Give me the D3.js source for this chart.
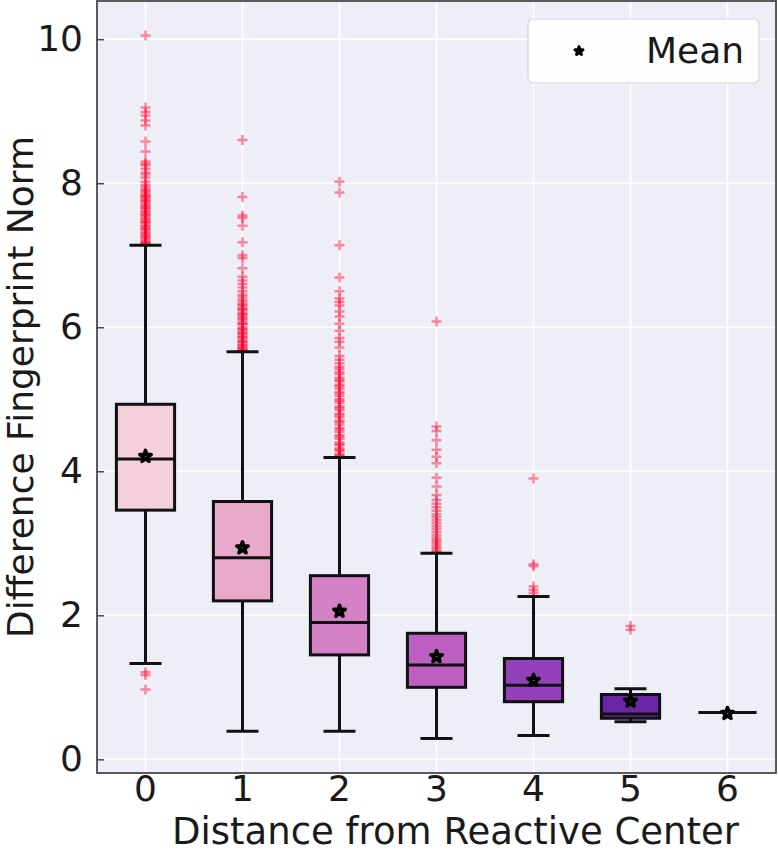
<!DOCTYPE html>
<html><head><meta charset="utf-8">
<script src="https://cdn.jsdelivr.net/npm/d3@7/dist/d3.min.js"></script>
<style>body{margin:0;background:#fff}svg{display:block}text{font-family:"DejaVu Sans",sans-serif;fill:#1a1a1a}</style>
</head><body><svg id="c" width="778" height="853"></svg>
<script>
const categories = ["0","1","2","3","4","5","6"];
const q1 =        [3.46, 2.20, 1.45, 1.00, 0.80, 0.57, 0.65];
const medians =   [4.17, 2.80, 1.90, 1.31, 1.03, 0.63, 0.65];
const q3 =        [4.93, 3.58, 2.55, 1.75, 1.40, 0.90, 0.65];
const means =     [4.22, 2.95, 2.07, 1.44, 1.11, 0.82, 0.65];
const whiskLow =  [1.33, 0.39, 0.39, 0.29, 0.33, 0.52, 0.65];
const whiskHigh = [7.14, 5.66, 4.19, 2.86, 2.26, 0.98, 0.65];
const boxColors = ["#f3d0dc","#e9a9cb","#d581c6","#bd5fc1","#9440bb","#6a27a8","#4a1890"];
const yTicks = [0, 2, 4, 6, 8, 10];
const outliers0 = [10.05, 9.05, 8.99, 8.94, 8.87, 8.8, 8.58, 8.44, 8.3, 8.27, 8.25, 8.2, 8.15, 8.12, 8.08, 8.02, 7.98, 7.95, 7.92, 7.9, 7.88, 7.85, 7.83, 7.82, 7.8, 7.78, 7.76, 7.75, 7.72, 7.7, 7.68, 7.66, 7.65, 7.62, 7.6, 7.58, 7.56, 7.55, 7.52, 7.5, 7.48, 7.46, 7.45, 7.42, 7.4, 7.38, 7.36, 7.35, 7.32, 7.3, 7.28, 7.26, 7.25, 7.22, 7.2, 7.18, 7.17, 7.16, 7.15, 1.21, 1.17, 0.97];
const outliers1 = [8.6, 7.81, 7.55, 7.52, 7.41, 7.18, 7.0, 6.96, 6.82, 6.7, 6.65, 6.6, 6.55, 6.5, 6.45, 6.42, 6.38, 6.35, 6.32, 6.3, 6.27, 6.25, 6.24, 6.2, 6.18, 6.17, 6.14, 6.12, 6.1, 6.07, 6.05, 6.04, 6.0, 5.98, 5.97, 5.94, 5.92, 5.91, 5.88, 5.86, 5.85, 5.82, 5.8, 5.79, 5.76, 5.75, 5.73, 5.71, 5.7, 5.68, 5.67];
const outliers2 = [8.02, 7.87, 7.14, 6.69, 6.5, 6.4, 6.35, 6.3, 6.22, 6.15, 6.05, 5.95, 5.85, 5.8, 5.72, 5.6, 5.55, 5.5, 5.45, 5.42, 5.38, 5.35, 5.3, 5.27, 5.25, 5.2, 5.18, 5.15, 5.1, 5.08, 5.05, 5.0, 4.98, 4.95, 4.9, 4.88, 4.85, 4.8, 4.78, 4.75, 4.7, 4.68, 4.65, 4.6, 4.58, 4.55, 4.5, 4.48, 4.45, 4.4, 4.38, 4.36, 4.32, 4.3, 4.28, 4.24, 4.22, 4.21];
const outliers3 = [6.08, 4.62, 4.56, 4.43, 4.3, 4.2, 4.11, 3.91, 3.79, 3.67, 3.6, 3.55, 3.5, 3.45, 3.4, 3.36, 3.32, 3.28, 3.24, 3.2, 3.16, 3.12, 3.08, 3.05, 3.02, 2.99, 2.96, 2.93, 2.9, 2.88];
const outliers4 = [3.9, 2.71, 2.68, 2.4, 2.35, 2.31];
const outliers5 = [1.85, 1.8];
const outliers6 = [];
const outliers = [outliers0, outliers1, outliers2, outliers3, outliers4, outliers5, outliers6];

const svg = d3.select("#c");
const L = 97, R = 776, T = 1, B = 773;
const x = d3.scaleBand().domain(categories).range([L, R]).paddingInner(0).paddingOuter(0);
const y = d3.scaleLinear().domain([-0.19, 10.53]).range([B, T]);
const step = x.bandwidth();
const cx = c => x(c) + step / 2;
const boxW = step * 0.6, capW = step * 0.33;

svg.append("rect").attr("x", L).attr("y", T).attr("width", R - L).attr("height", B - T).attr("fill", "#eeeef6");

// grid
svg.append("g").selectAll("line").data(yTicks).join("line")
  .attr("x1", L).attr("x2", R).attr("y1", d => y(d)).attr("y2", d => y(d))
  .attr("stroke", "#fff").attr("stroke-width", 1.6);
svg.append("g").selectAll("line").data(categories).join("line")
  .attr("x1", d => cx(d)).attr("x2", d => cx(d)).attr("y1", T).attr("y2", B)
  .attr("stroke", "#fff").attr("stroke-width", 1.6);

// axes
const yAxis = d3.axisLeft(y).tickValues(yTicks).tickSize(-7).tickPadding(14).tickFormat(d3.format("d"));
const gy = svg.append("g").attr("transform", `translate(${L},0)`).call(yAxis);
gy.select(".domain").remove();
gy.selectAll(".tick line").attr("stroke", "#4a4a4a").attr("stroke-width", 1.5);
gy.selectAll(".tick text").attr("font-size", 36).attr("fill", "#1a1a1a").attr("font-family", "DejaVu Sans");

const xAxis = d3.axisBottom(x).tickSize(0).tickPadding(2);
const gx = svg.append("g").attr("transform", `translate(0,${B})`).call(xAxis);
gx.select(".domain").remove();
gx.selectAll(".tick text").attr("font-size", 36).attr("fill", "#1a1a1a").attr("font-family", "DejaVu Sans");

// outliers
const plusPath = "M-5,0H5M0,-5V5";
const og = svg.append("g");
outliers.forEach((arr, i) => {
  og.selectAll(null).data(arr).join("path")
    .attr("d", plusPath)
    .attr("transform", d => `translate(${cx(categories[i])},${y(d)})`)
    .attr("stroke", "rgb(255,0,45)").attr("stroke-opacity", 0.45).attr("stroke-width", 2.5).attr("fill", "none");
});

// boxes
const bg = svg.append("g");
categories.forEach((c, i) => {
  const xc = cx(c);
  const g = bg.append("g");
  g.append("line").attr("x1", xc).attr("x2", xc).attr("y1", y(q3[i])).attr("y2", y(whiskHigh[i])).attr("stroke", "#111").attr("stroke-width", 3);
  g.append("line").attr("x1", xc).attr("x2", xc).attr("y1", y(q1[i])).attr("y2", y(whiskLow[i])).attr("stroke", "#111").attr("stroke-width", 3);
  g.append("line").attr("x1", xc - capW / 2).attr("x2", xc + capW / 2).attr("y1", y(whiskHigh[i])).attr("y2", y(whiskHigh[i])).attr("stroke", "#111").attr("stroke-width", 3);
  g.append("line").attr("x1", xc - capW / 2).attr("x2", xc + capW / 2).attr("y1", y(whiskLow[i])).attr("y2", y(whiskLow[i])).attr("stroke", "#111").attr("stroke-width", 3);
  g.append("rect").attr("x", xc - boxW / 2).attr("width", boxW)
    .attr("y", y(q3[i])).attr("height", Math.max(0, y(q1[i]) - y(q3[i])))
    .attr("fill", boxColors[i]).attr("stroke", "#111").attr("stroke-width", 3);
  g.append("line").attr("x1", xc - boxW / 2).attr("x2", xc + boxW / 2).attr("y1", y(medians[i])).attr("y2", y(medians[i])).attr("stroke", "#111").attr("stroke-width", 3);
});

// means
const star = d3.symbol().type(d3.symbolStar).size(40);
svg.append("g").selectAll("path").data(means).join("path")
  .attr("d", star)
  .attr("transform", (d, i) => `translate(${cx(categories[i])},${y(d) + 1})`)
  .attr("fill", "#22ee22").attr("stroke", "#000").attr("stroke-width", 3.6).attr("stroke-linejoin", "round");

// frame
svg.append("rect").attr("x", L).attr("y", T).attr("width", R - L).attr("height", B - T)
  .attr("fill", "none").attr("stroke", "#4a4a4a").attr("stroke-width", 1.8);

// legend
const lg = svg.append("g");
lg.append("rect").attr("x", 528).attr("y", 19).attr("width", 231).attr("height", 64).attr("rx", 5)
  .attr("fill", "#fff").attr("fill-opacity", 0.85).attr("stroke", "#d3dadd").attr("stroke-width", 1.2);
lg.append("path").attr("d", d3.symbol().type(d3.symbolStar).size(20)).attr("transform", "translate(579,51)")
  .attr("fill", "#fff").attr("stroke", "#000").attr("stroke-width", 3).attr("stroke-linejoin", "round");
lg.append("text").attr("x", 646).attr("y", 63).attr("font-size", 36).text("Mean");

// axis titles
svg.append("text").attr("x", (L + R) / 2 + 19).attr("y", 844).attr("text-anchor", "middle").attr("font-size", 37).text("Distance from Reactive Center");
svg.append("text").attr("transform", `translate(33,${(T + B) / 2}) rotate(-90)`).attr("text-anchor", "middle").attr("font-size", 36).text("Difference Fingerprint Norm");
</script></body></html>
